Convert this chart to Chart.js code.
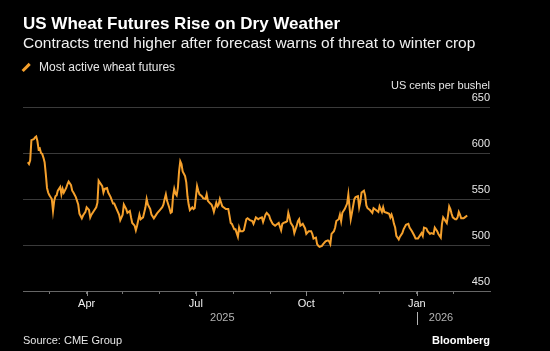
<!DOCTYPE html>
<html>
<head>
<meta charset="utf-8">
<script src="https://cdn.jsdelivr.net/npm/chart.js@4.4.1/dist/chart.umd.min.js"></script>
<style>
    html, body { margin: 0; padding: 0; background: #000; }
    #wrap { position: relative; width: 550px; height: 351px; background: #000; overflow: hidden;
            font-family: "Liberation Sans", Arial, sans-serif; color: #fff; }
    #wrap canvas { position: absolute; left: 0; top: 0; }
    .txt { position: absolute; white-space: nowrap; line-height: 1; }
    #title { left: 23px; top: 15px; font-size: 17px; font-weight: bold; }
    #subtitle { left: 23px; top: 35px; font-size: 15.5px; color: #f0f0f0; }
    #legend { left: 39px; top: 61px; font-size: 12px; color: #e6e6e6; }
    #legend-mark { position: absolute; left: 21px; top: 65.5px; width: 10px; height: 2.5px;
                   background: #f5a02c; transform: rotate(-45deg); }
    #unit { right: 60px; top: 80px; font-size: 11px; color: #e6e6e6; }
    #source { left: 23px; top: 335px; font-size: 11px; color: #e6e6e6; }
    #brand { right: 60px; top: 335px; font-size: 11px; font-weight: bold; }
</style>
</head>
<body>
<div id="wrap">
    <canvas id="wheat-chart" width="550" height="351"></canvas>
    <div class="txt" id="title">US Wheat Futures Rise on Dry Weather</div>
    <div class="txt" id="subtitle">Contracts trend higher after forecast warns of threat to winter crop</div>
    <div id="legend-mark"></div>
    <div class="txt" id="legend">Most active wheat futures</div>
    <div class="txt" id="unit">US cents per bushel</div>
    <div class="txt" id="source">Source: CME Group</div>
    <div class="txt" id="brand">Bloomberg</div>
</div>
<script>
(function () {
    'use strict';

    // Trading days, counted as days since 1 Jan 2025.
    var days = [
        41, 42, 43, 44, 46, 47, 48, 49, 50, 51, 52, 53, 54, 55, 56, 57, 58, 59, 61, 62,
        63, 64, 65, 66, 68, 69, 70, 71, 73, 74, 75, 77, 78, 79, 81, 83, 84, 86, 87, 89,
        90, 92, 93, 94, 96, 98, 99, 100, 101, 103, 104, 105, 107, 108, 110, 112, 113, 115, 117, 118,
        120, 121, 123, 124, 126, 127, 128, 130, 131, 132, 134, 135, 137, 139, 140, 141, 143, 144, 146, 148,
        149, 151, 153, 154, 155, 156, 157, 159, 160, 161, 162, 163, 164, 165, 166, 167, 168, 169, 170, 172,
        173, 174, 175, 176, 178, 179, 180, 182, 183, 184, 186, 187, 189, 190, 191, 193, 194, 195, 196, 198,
        199, 200, 201, 203, 204, 206, 208, 209, 210, 211, 213, 214, 216, 217, 218, 220, 221, 223, 224, 226,
        228, 229, 231, 233, 234, 236, 237, 239, 240, 242, 243, 245, 247, 248, 250, 252, 253, 254, 256, 257,
        258, 259, 260, 262, 263, 265, 266, 267, 268, 270, 272, 273, 275, 277, 278, 279, 281, 282, 283, 284,
        286, 287, 289, 291, 292, 293, 294, 296, 297, 298, 300, 301, 302, 303, 305, 307, 308, 309, 310, 311,
        313, 314, 316, 317, 318, 319, 321, 322, 323, 324, 326, 328, 329, 331, 333, 334, 336, 337, 338, 340,
        342, 343, 344, 345, 346, 347, 348, 350, 351, 353, 354, 356, 358, 359, 361, 363, 364, 366, 368, 369,
        370, 371, 373, 374, 376, 377, 379, 380, 382, 383, 385, 386, 387, 389, 390, 391, 392, 393, 394, 395,
        397, 398, 399, 400, 401, 402, 404, 405, 407
    ];

    // Most active wheat futures, US cents per bushel.
    var prices = [
        590, 588, 592, 614, 615, 617, 618, 613, 604, 605, 600, 599, 595, 590, 577, 562, 557, 554, 550, 537,
        548, 553, 554, 559, 563, 555, 561, 557, 562, 566, 569, 565, 559, 557, 552, 544, 534, 529, 532, 536,
        541, 538, 530, 533, 537, 541, 546, 570, 568, 564, 557, 561, 562, 557, 552, 545, 545, 539, 533, 527,
        533, 544, 539, 535, 537, 530, 524, 521, 516, 521, 533, 528, 530, 541, 550, 544, 539, 533, 529, 533,
        535, 538, 541, 544, 550, 555, 548, 540, 535, 536, 553, 561, 556, 554, 562, 580, 591, 588, 580, 575,
        568, 553, 544, 538, 541, 539, 540, 564, 559, 555, 553, 551, 550, 555, 548, 545, 544, 541, 536, 546,
        542, 544, 550, 542, 541, 539, 539, 532, 524, 523, 517, 517, 509, 519, 515, 515, 516, 528, 529, 527,
        526, 523, 530, 528, 529, 530, 525, 533, 535, 532, 528, 523, 521, 522, 524, 516, 523, 524, 525, 526,
        535, 530, 524, 520, 513, 521, 526, 528, 521, 523, 518, 512, 515, 515, 512, 507, 508, 501, 499, 498,
        499, 501, 504, 505, 504, 501, 512, 515, 519, 526, 528, 533, 526, 535, 539, 545, 555, 541, 528, 535,
        550, 552, 553, 541, 547, 557, 559, 554, 543, 540, 538, 535, 540, 538, 536, 542, 536, 541, 536, 535,
        534, 530, 533, 529, 523, 519, 510, 506, 509, 513, 517, 522, 523, 519, 515, 510, 507, 507, 511, 513,
        510, 519, 518, 515, 512, 513, 512, 519, 515, 512, 508, 523, 530, 526, 524, 532, 542, 539, 534, 530,
        528, 528, 530, 536, 533, 529, 529, 530, 532
    ];

    // First day of each month on the x axis, and the labels shown under them.
    var monthDays = [59, 90, 120, 151, 181, 212, 243, 273, 304, 334, 365, 396];
    var monthLabels = ['', 'Apr', '', '', 'Jul', '', '', 'Oct', '', '', 'Jan', ''];
    var yearLabels = ['2025', '2026'];
    var yearStartDay = 365;
    var yTicks = [450, 500, 550, 600, 650];

    var FONT = '"Liberation Sans", Arial, sans-serif';

    /**
     * Longer ticks for labelled months plus the year row.
     */
    var axisExtras = {
        id: 'axisExtras',
        afterDraw: function (chart) {
            var ctx = chart.ctx;
            var xs = chart.scales.x;
            var base = chart.chartArea.bottom;

            ctx.save();
            ctx.strokeStyle = '#888';
            ctx.lineWidth = 1;
            for (var i = 0; i < monthDays.length; i++) {
                if (!monthLabels[i]) {
                    continue;
                }
                var px = Math.round(xs.getPixelForValue(monthDays[i])) + 0.5;
                ctx.beginPath();
                ctx.moveTo(px, base);
                ctx.lineTo(px, base + 5);
                ctx.stroke();
            }

            var janX = xs.getPixelForValue(yearStartDay);
            var firstX = xs.getPixelForValue(days[0]);
            ctx.font = '11px ' + FONT;
            ctx.fillStyle = '#b4b4b4';
            ctx.textBaseline = 'middle';
            ctx.textAlign = 'center';
            ctx.fillText(yearLabels[0], (firstX + janX) / 2, 318);
            ctx.fillRect(Math.round(janX), 312, 1, 13);
            ctx.textAlign = 'left';
            ctx.fillText(yearLabels[1], janX + 12, 318);
            ctx.restore();
        }
    };

    var points = days.map(function (d, i) {
        return { x: d, y: prices[i] };
    });

    new Chart(document.getElementById('wheat-chart').getContext('2d'), {
        type: 'line',
        data: {
            datasets: [{
                label: 'Most active wheat futures',
                data: points,
                borderColor: '#f5a02c',
                borderWidth: 2,
                pointRadius: 0,
                tension: 0,
                fill: false
            }]
        },
        options: {
            responsive: false,
            animation: false,
            layout: {
                padding: { left: 23, top: 107, right: 0, bottom: 0 }
            },
            plugins: {
                legend: { display: false },
                tooltip: { enabled: false }
            },
            scales: {
                x: {
                    type: 'linear',
                    min: 37,
                    max: 426,
                    afterBuildTicks: function (scale) {
                        scale.ticks = monthDays.map(function (d) { return { value: d }; });
                    },
                    afterFit: function (scale) {
                        scale.height = 60;
                    },
                    grid: {
                        drawOnChartArea: false,
                        drawTicks: true,
                        tickLength: 3,
                        tickColor: '#777'
                    },
                    border: { display: true, color: '#666', width: 1 },
                    ticks: {
                        autoSkip: false,
                        maxRotation: 0,
                        padding: 3,
                        color: '#f0f0f0',
                        font: { family: FONT, size: 11 },
                        callback: function (value, index) {
                            return monthLabels[index];
                        }
                    }
                },
                y: {
                    position: 'right',
                    min: 450,
                    max: 650,
                    afterBuildTicks: function (scale) {
                        scale.ticks = yTicks.map(function (v) { return { value: v }; });
                    },
                    afterFit: function (scale) {
                        scale.width = 60;
                    },
                    grid: { color: '#3a3a3a', lineWidth: 1, drawTicks: false },
                    border: { display: false },
                    ticks: {
                        mirror: true,
                        padding: 0,
                        labelOffset: -9,
                        color: '#e6e6e6',
                        font: { family: FONT, size: 11 }
                    }
                }
            }
        },
        plugins: [axisExtras]
    });
})();
</script>
</body>
</html>
